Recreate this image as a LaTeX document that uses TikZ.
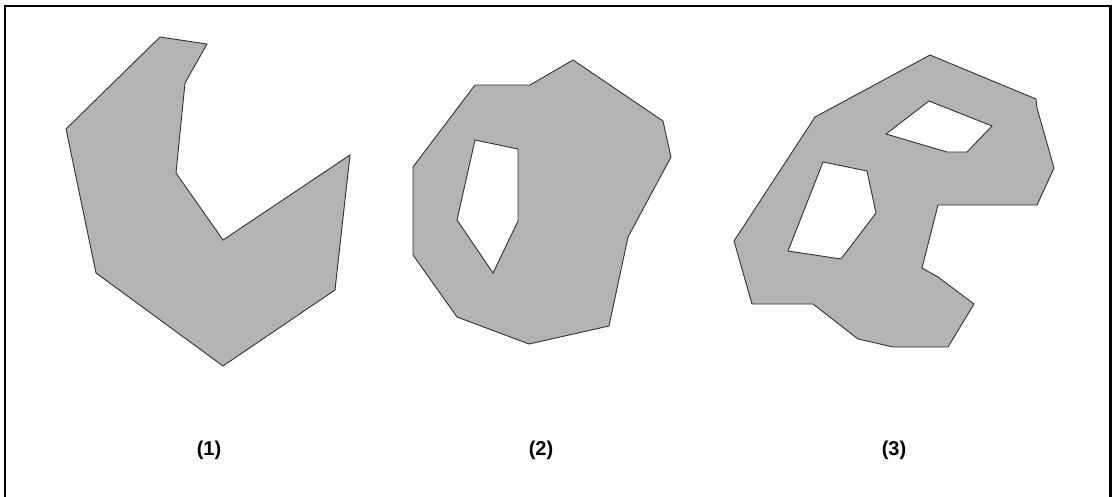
\documentclass[tikz,border=0pt]{standalone}
\usepackage{fontspec}
\setmainfont{Liberation Sans}
\definecolor{polyfill}{RGB}{179,179,179}
\definecolor{polyline}{RGB}{50,50,50}
\tikzset{
  region/.style={fill=polyfill, draw=polyline, line width=0.9pt, even odd rule, line join=miter},
  caption/.style={font=\bfseries\fontsize{20}{22}\selectfont, inner sep=0pt},
  frameline/.style={draw=black, line width=2.6pt}
}
\begin{document}
\begin{tikzpicture}[x=1pt,y=-1pt]
\useasboundingbox (0,0) rectangle (1114,496);
\fill[white] (0,0) rectangle (1114,496);
% frame (open at bottom)
\draw[frameline] (5,500) -- (5,6) -- (1110.5,6) -- (1110.5,500);
% (1)
\path[region] (160,37) -- (207,44) -- (185,83) -- (176,173) -- (223,240) -- (350,155)
  -- (335,290) -- (223,366) -- (96,273) -- (66,129) -- cycle;
% (2)
\path[region] (573,60) -- (663,121) -- (671,157) -- (628,237) -- (609,326) -- (529,344)
  -- (457,317) -- (413,255) -- (413,167) -- (475,85) -- (530,85) -- cycle
  (475,140) -- (518,149) -- (518,221) -- (493,273) -- (457,220) -- cycle;
% (3)
\path[region] (930,55) -- (1036,99) -- (1037,108) -- (1054,168) -- (1037,205) -- (938,205)
  -- (922,268) -- (938,277) -- (974,304) -- (948,347) -- (893,347) -- (858,339)
  -- (813,304) -- (752,304) -- (734,241) -- (815,117) -- cycle
  (929,101) -- (992,126) -- (967,152) -- (947,152) -- (886,134) -- cycle
  (823,162) -- (867,171) -- (876,213) -- (841,259) -- (788,251) -- cycle;
\node[caption] (l1) at (209,450) {(1)};
\node[caption] (l2) at (541,450) {(2)};
\node[caption] (l3) at (894,450) {(3)};
\end{tikzpicture}
\end{document}
